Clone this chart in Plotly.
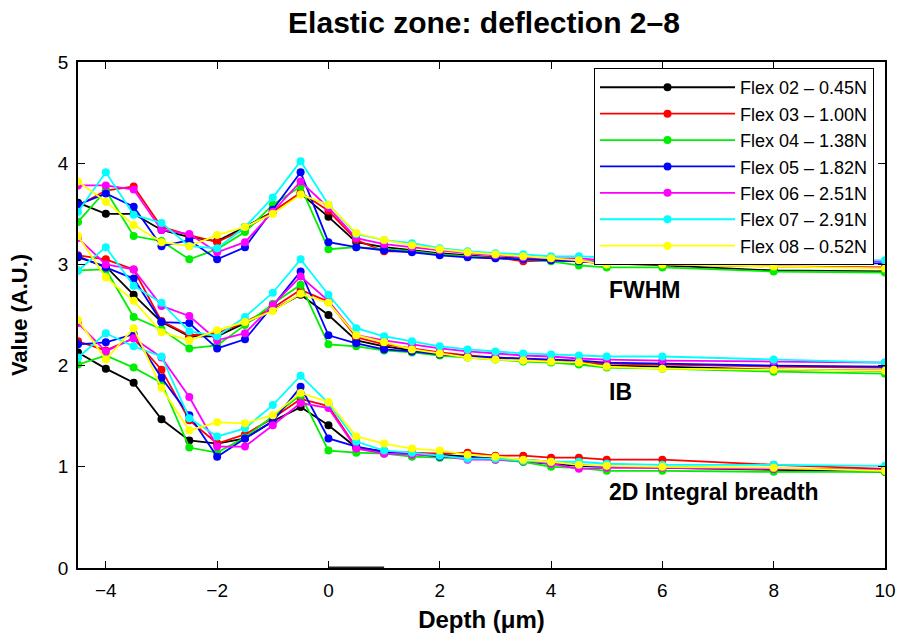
import plotly.graph_objects as go

depth = [-4.5, -4, -3.5, -3, -2.5, -2, -1.5, -1, -0.5, 0, 0.5, 1, 1.5, 2, 2.5, 3, 3.5, 4, 4.5, 5, 6, 8, 10]

names = ["Flex 02 – 0.45N", "Flex 03 – 1.00N", "Flex 04 – 1.38N", "Flex 05 – 1.82N",
         "Flex 06 – 2.51N", "Flex 07 – 2.91N", "Flex 08 – 0.52N"]
colors = ["#000000", "#ff0000", "#00ee00", "#0000ff", "#ff00ff", "#00ffff", "#ffff00"]

fwhm_02 = [3.61, 3.50, 3.50, 3.34, 3.27, 3.23, 3.37, 3.52, 3.70, 3.47, 3.22, 3.17, 3.14, 3.11, 3.09, 3.07, 3.06, 3.05, 3.03, 3.01, 2.99, 2.94, 2.93]
fwhm_03 = [3.58, 3.73, 3.77, 3.37, 3.29, 3.22, 3.35, 3.52, 3.71, 3.53, 3.24, 3.13, 3.13, 3.10, 3.08, 3.07, 3.03, 3.04, 3.03, 3.01, 3.00, 2.98, 2.97]
fwhm_04 = [3.42, 3.73, 3.28, 3.23, 3.05, 3.15, 3.32, 3.59, 3.77, 3.15, 3.17, 3.15, 3.13, 3.10, 3.08, 3.06, 3.05, 3.03, 2.99, 2.97, 2.97, 2.93, 2.92]
fwhm_05 = [3.59, 3.70, 3.57, 3.18, 3.24, 3.05, 3.17, 3.54, 3.91, 3.22, 3.17, 3.14, 3.12, 3.09, 3.07, 3.06, 3.05, 3.04, 3.03, 3.03, 3.02, 3.01, 3.01]
fwhm_06 = [3.78, 3.78, 3.74, 3.34, 3.30, 3.12, 3.22, 3.52, 3.82, 3.56, 3.26, 3.20, 3.17, 3.14, 3.11, 3.09, 3.07, 3.06, 3.06, 3.04, 3.04, 3.03, 3.03]
fwhm_07 = [3.52, 3.91, 3.49, 3.41, 3.18, 3.16, 3.37, 3.66, 4.02, 3.59, 3.30, 3.24, 3.21, 3.16, 3.13, 3.11, 3.10, 3.08, 3.08, 3.07, 3.07, 3.07, 3.04]
fwhm_08 = [3.82, 3.62, 3.39, 3.22, 3.18, 3.29, 3.37, 3.50, 3.69, 3.59, 3.31, 3.24, 3.19, 3.15, 3.12, 3.10, 3.08, 3.06, 3.04, 3.00, 3.00, 2.98, 2.96]

ib_02 = [3.07, 2.98, 2.70, 2.43, 2.29, 2.29, 2.42, 2.55, 2.70, 2.50, 2.25, 2.19, 2.15, 2.12, 2.09, 2.07, 2.05, 2.04, 2.02, 2.00, 1.99, 1.96, 1.95]
ib_03 = [3.09, 3.05, 2.95, 2.44, 2.30, 2.32, 2.43, 2.57, 2.75, 2.63, 2.28, 2.21, 2.17, 2.13, 2.10, 2.08, 2.06, 2.05, 2.03, 2.02, 2.01, 1.99, 1.98]
ib_04 = [2.94, 2.95, 2.48, 2.36, 2.17, 2.20, 2.40, 2.61, 2.80, 2.21, 2.19, 2.15, 2.13, 2.10, 2.08, 2.06, 2.04, 2.03, 2.01, 1.98, 1.97, 1.94, 1.92]
ib_05 = [3.08, 2.97, 2.86, 2.43, 2.42, 2.17, 2.26, 2.59, 2.93, 2.30, 2.22, 2.16, 2.14, 2.11, 2.09, 2.08, 2.07, 2.06, 2.05, 2.03, 2.02, 2.00, 1.99]
ib_06 = [3.26, 3.00, 2.95, 2.59, 2.49, 2.25, 2.32, 2.60, 2.88, 2.64, 2.30, 2.25, 2.21, 2.17, 2.14, 2.12, 2.10, 2.09, 2.07, 2.06, 2.05, 2.04, 2.03]
ib_07 = [2.94, 3.17, 2.79, 2.62, 2.34, 2.29, 2.48, 2.72, 3.05, 2.70, 2.37, 2.29, 2.24, 2.19, 2.16, 2.14, 2.12, 2.11, 2.10, 2.09, 2.09, 2.06, 2.03]
ib_08 = [3.28, 2.87, 2.64, 2.33, 2.25, 2.35, 2.43, 2.54, 2.71, 2.62, 2.30, 2.23, 2.16, 2.12, 2.08, 2.06, 2.05, 2.04, 2.03, 1.99, 1.97, 1.96, 1.95]

ib2d_02 = [2.13, 1.97, 1.83, 1.47, 1.26, 1.23, 1.28, 1.45, 1.59, 1.41, 1.19, 1.15, 1.13, 1.12, 1.10, 1.08, 1.05, 1.03, 1.01, 1.00, 0.99, 0.97, 0.95]
ib2d_03 = [2.24, 2.15, 2.27, 1.96, 1.46, 1.23, 1.32, 1.48, 1.67, 1.60, 1.19, 1.15, 1.14, 1.13, 1.14, 1.11, 1.11, 1.09, 1.09, 1.07, 1.07, 1.02, 0.98]
ib2d_04 = [2.01, 2.10, 1.98, 1.83, 1.19, 1.14, 1.29, 1.50, 1.71, 1.16, 1.14, 1.13, 1.10, 1.09, 1.08, 1.07, 1.05, 1.00, 0.99, 0.96, 0.96, 0.95, 0.95]
ib2d_05 = [2.21, 2.23, 2.31, 1.88, 1.51, 1.10, 1.28, 1.45, 1.79, 1.28, 1.20, 1.15, 1.13, 1.10, 1.09, 1.08, 1.07, 1.05, 1.02, 1.00, 1.00, 0.98, 0.97]
ib2d_06 = [2.42, 2.14, 2.27, 2.08, 1.69, 1.20, 1.20, 1.41, 1.63, 1.58, 1.18, 1.13, 1.12, 1.11, 1.07, 1.07, 1.06, 1.03, 0.98, 0.99, 0.99, 0.98, 0.97]
ib2d_07 = [2.08, 2.32, 2.19, 2.09, 1.48, 1.30, 1.38, 1.61, 1.90, 1.63, 1.25, 1.16, 1.14, 1.11, 1.08, 1.08, 1.06, 1.05, 1.05, 1.03, 1.02, 1.02, 1.01]
ib2d_08 = [2.45, 2.06, 2.37, 1.78, 1.36, 1.44, 1.43, 1.51, 1.73, 1.64, 1.30, 1.23, 1.18, 1.16, 1.12, 1.10, 1.07, 1.05, 1.02, 1.01, 1.00, 0.99, 0.96]

surface_x = [0, 1]
surface_y = [0, 0]

group_labels = ["FWHM", "IB", "2D Integral breadth"]
label_x = [5, 5, 5]
label_y = [2.75, 1.74, 0.75]

fwhm = [fwhm_02, fwhm_03, fwhm_04, fwhm_05, fwhm_06, fwhm_07, fwhm_08]
ib = [ib_02, ib_03, ib_04, ib_05, ib_06, ib_07, ib_08]
ib2d = [ib2d_02, ib2d_03, ib2d_04, ib2d_05, ib2d_06, ib2d_07, ib2d_08]

FONT = "Liberation Sans, Arial, sans-serif"
fig = go.Figure()
for i, name in enumerate(names):
    for j, series in enumerate([fwhm[i], ib[i], ib2d[i]]):
        fig.add_trace(go.Scatter(
            x=depth, y=series, mode="lines+markers", name=name,
            legendgroup=f"g{i}", showlegend=(j == 0),
            line=dict(color=colors[i], width=1.8),
            marker=dict(color=colors[i], size=8),
        ))

fig.add_trace(go.Scatter(x=surface_x, y=surface_y, mode="lines", showlegend=False,
                         line=dict(color="#222222", width=3), hoverinfo="skip"))

for t, xx, yy in zip(group_labels, label_x, label_y):
    fig.add_annotation(x=xx, y=yy, text=t, showarrow=False, xanchor="left", yanchor="middle",
                       font=dict(family=FONT, size=23, color="black", weight="bold"))

axis_common = dict(showline=True, linecolor="black", linewidth=1.5, mirror="ticks",
                   ticks="inside", ticklen=7, tickcolor="black", showgrid=False, zeroline=False,
                   ticklabelstandoff=4, automargin=False, ticklabeloverflow="allow",
                   tickfont=dict(family=FONT, size=19, color="black"))

fig.update_layout(
    width=902, height=640,
    margin=dict(l=78, r=17, t=62, b=72, autoexpand=False),
    paper_bgcolor="white", plot_bgcolor="white",
    title=dict(text="Elastic zone: deflection 2–8", x=0.5366, xanchor="center", y=0.9656, yanchor="middle",
               automargin=False,
               font=dict(family=FONT, size=30, color="black", weight="bold")),
    xaxis=dict(range=[-4.5, 10], tickvals=[-4, -2, 0, 2, 4, 6, 8, 10],
               title=dict(text="Depth (μm)", standoff=12,
                          font=dict(family=FONT, size=24, color="black", weight="bold")),
               **axis_common),
    yaxis=dict(range=[0, 5], dtick=1,
               title=dict(text="Value (A.U.)", standoff=24,
                          font=dict(family=FONT, size=22, color="black", weight="bold")),
               **axis_common),
    legend=dict(x=0.9864, y=0.988, xanchor="right", yanchor="top",
                bgcolor="white", bordercolor="black", borderwidth=1,
                font=dict(family=FONT, size=18, color="black"),
                itemwidth=135, tracegroupgap=0, traceorder="grouped"),
    showlegend=True,
)

fig.write_html("out.html",
               config={"displayModeBar": False},
               post_script="document.body.style.margin='0';document.body.style.overflow='hidden';")
